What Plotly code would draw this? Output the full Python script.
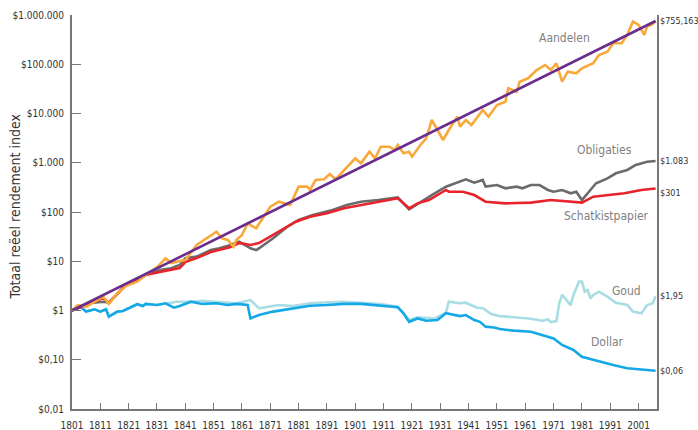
import plotly.graph_objects as go
import numpy as np

# Real total return index, $1 invested in 1801
stock_years = [1801, 1803, 1806, 1812, 1814, 1817, 1820, 1824, 1827, 1831, 1834, 1836, 1838, 1841,
               1845, 1848, 1852, 1854, 1856, 1858, 1859, 1861, 1863, 1866, 1868, 1871, 1874, 1878,
               1881, 1884, 1885, 1887, 1890, 1892, 1894, 1898, 1901, 1903, 1906, 1908, 1910, 1913,
               1915, 1916, 1918, 1920, 1921, 1924, 1926, 1928, 1932, 1934, 1937, 1938, 1940, 1942,
               1946, 1948, 1951, 1954, 1955, 1958, 1959, 1962, 1965, 1968, 1970, 1972, 1974, 1976,
               1979, 1981, 1985, 1987, 1990, 1992, 1995, 1997, 1999, 2001, 2003, 2004, 2006, 2007]
stocks = [1.0, 1.29, 1.19, 1.91, 1.36, 2.23, 3.14, 3.85, 5.26, 7.54, 11.5, 9.2, 9.8, 10.6,
          21.4, 27.9, 39.8, 29.2, 27.0, 19.7, 27.0, 34.1, 59.0, 46.7, 68.8, 128, 162, 139,
          327, 327, 280, 447, 461, 591, 461, 832, 1230, 975, 1676, 1230, 2118, 2118,
          1815, 2291, 1556, 1676, 1327, 2291, 3140, 7380, 2897, 4624, 8610, 5395, 7380, 5845,
          11780, 8610, 14890, 17380, 32500, 27700, 44250, 51860, 76400, 96600, 76400, 104500, 44250, 70600,
          65500, 82800, 104500, 154000, 180000, 266000, 266000, 393000, 731000, 627000, 393000, 579000, 657000, 755163]

bond_years = [1801, 1807, 1812, 1814, 1820, 1824, 1827, 1832, 1836, 1839, 1841, 1845, 1850, 1853,
              1857, 1860, 1864, 1866, 1867, 1872, 1877, 1881, 1886, 1893, 1898, 1903, 1909, 1916,
              1920, 1925, 1928, 1933, 1938, 1940, 1943, 1946, 1947, 1951, 1954, 1958, 1960, 1963,
              1966, 1969, 1971, 1974, 1977, 1979, 1981, 1983, 1986, 1990, 1993, 1997, 2000, 2004, 2007]
bonds = [1.0, 1.40, 1.51, 1.45, 3.30, 4.03, 5.26, 6.64, 7.19, 8.39, 11.5, 12.4, 16.9, 18.3,
         21.4, 24.9, 18.3, 16.9, 18.3, 29.2, 50.3, 68.8, 86.9, 110, 139, 162, 175, 199,
         113, 175, 221, 327, 412, 461, 394, 447, 327, 353, 303, 327, 303, 353,
         353, 280, 258, 280, 240, 258, 175, 240, 383, 483, 611, 713, 900, 1050, 1083]

bill_years = [1801, 1812, 1814, 1820, 1824, 1827, 1832, 1836, 1839, 1841, 1845, 1850, 1853, 1857,
              1860, 1864, 1867, 1871, 1876, 1880, 1885, 1891, 1897, 1903, 1909, 1916, 1920, 1923,
              1927, 1933, 1934, 1939, 1943, 1947, 1954, 1963, 1970, 1978, 1981, 1985, 1990, 1996,
              2002, 2007]
bills = [1.0, 1.79, 1.42, 3.30, 4.03, 5.26, 6.05, 6.64, 7.29, 9.66, 11.6, 15.4, 16.9, 19.5,
         23.5, 21.4, 23.4, 31.5, 46.7, 63.5, 80.3, 94, 119, 139, 162, 190, 119, 150,
         175, 280, 258, 258, 221, 162, 150, 155, 175, 162, 155, 205, 221, 240,
         280, 301]

gold_years = [1801, 1804, 1806, 1809, 1811, 1813, 1814, 1817, 1819, 1822, 1824, 1826, 1827, 1831,
              1834, 1838, 1843, 1847, 1851, 1859, 1864, 1867, 1874, 1879, 1885, 1896, 1903, 1910,
              1916, 1920, 1923, 1929, 1933, 1934, 1938, 1940, 1944, 1946, 1949, 1952, 1957, 1963,
              1967, 1969, 1970, 1972, 1973, 1974, 1976, 1977, 1978, 1980, 1981, 1982, 1983, 1984,
              1985, 1987, 1990, 1993, 1997, 1999, 2002, 2004, 2006, 2007]
gold = [1.0, 1.18, 0.95, 1.06, 0.95, 1.06, 0.75, 0.95, 0.98, 1.19, 1.34, 1.23, 1.36, 1.29,
        1.40, 1.51, 1.51, 1.58, 1.51, 1.40, 1.63, 1.11, 1.29, 1.23, 1.40, 1.51, 1.44, 1.36,
        1.19, 0.64, 0.73, 0.69, 0.90, 1.51, 1.40, 1.44, 1.14, 1.11, 0.85, 0.77, 0.73, 0.68,
        0.62, 0.66, 0.58, 0.61, 1.40, 2.07, 1.51, 1.29, 2.07, 3.85, 3.85, 2.41, 2.61, 1.77,
        2.07, 2.41, 1.91, 1.44, 1.29, 0.95, 0.88, 1.29, 1.40, 1.95]

dollar_years = [1801, 1804, 1806, 1809, 1811, 1813, 1814, 1817, 1819, 1822, 1824, 1826, 1827, 1831,
                1834, 1837, 1839, 1843, 1847, 1852, 1856, 1859, 1863, 1864, 1867, 1872, 1877, 1881,
                1885, 1891, 1897, 1903, 1909, 1916, 1918, 1920, 1923, 1926, 1930, 1933, 1938, 1940,
                1943, 1945, 1947, 1950, 1952, 1957, 1963, 1966, 1971, 1974, 1978, 1981, 1986, 1992,
                1997, 2003, 2007]
dollar = [1.0, 1.18, 0.95, 1.06, 0.95, 1.06, 0.75, 0.95, 0.98, 1.19, 1.34, 1.23, 1.36, 1.29,
          1.40, 1.14, 1.23, 1.51, 1.36, 1.40, 1.29, 1.36, 1.29, 0.69, 0.81, 0.95, 1.06, 1.16,
          1.25, 1.29, 1.36, 1.36, 1.25, 1.16, 0.88, 0.59, 0.69, 0.62, 0.64, 0.88, 0.77, 0.81,
          0.64, 0.59, 0.47, 0.45, 0.42, 0.39, 0.37, 0.33, 0.27, 0.20, 0.158, 0.115, 0.096, 0.078,
          0.067, 0.062, 0.06]

# Constant-growth trend of stocks between the first and last year
trend_years = [1801, 2007]
trend = [1.0, 755163]

y_tickvals = [0.01, 0.1, 1, 10, 100, 1000, 10000, 100000, 1000000]
y_ticktext = ["$0,01", "$0,10", "$1", "$10", "$100", "$1.000", "$10.000", "$100.000", "$1.000.000"]
x_tickvals = list(range(1801, 2002, 10))

end_labels = [("$755,163", 755163, 0), ("$1.083", 1083, 0), ("$301", 301, -5),
              ("$1,95", 1.95, 0), ("$0,06", 0.06, 0)]
series_labels = [("Aandelen", 1975, 5.533), ("Obligaties", 1989.1, 3.259),
                 ("Schatkistpapier", 1989.8, 1.919), ("Goud", 1996.6, 0.396),
                 ("Dollar", 1990.2, -0.640)]

FONT = "Liberation Sans Narrow, DejaVu Sans Condensed, Roboto Condensed, Roboto, sans-serif"

fig = go.Figure()
lw = 2.6
fig.add_trace(go.Scatter(x=gold_years, y=gold, mode="lines",
                         line=dict(color="#a8dde3", width=lw)))
fig.add_trace(go.Scatter(x=dollar_years, y=dollar, mode="lines",
                         line=dict(color="#14a9e6", width=lw)))
fig.add_trace(go.Scatter(x=bond_years, y=bonds, mode="lines",
                         line=dict(color="#6b6b6b", width=lw)))
fig.add_trace(go.Scatter(x=bill_years, y=bills, mode="lines",
                         line=dict(color="#e8232b", width=lw)))
fig.add_trace(go.Scatter(x=stock_years, y=stocks, mode="lines",
                         line=dict(color="#f8a93a", width=lw)))
fig.add_trace(go.Scatter(x=trend_years, y=trend, mode="lines",
                         line=dict(color="#6a2d8f", width=lw)))

for text, val, shift in end_labels:
    fig.add_annotation(x=1, xref="paper", y=np.log10(val), yref="y", text=text,
                       showarrow=False, xanchor="left", xshift=1, yshift=shift,
                       font=dict(family=FONT, size=9, color="#333333"))

for text, xv, yv in series_labels:
    fig.add_annotation(x=xv, y=yv, xref="x", yref="y", text=text, showarrow=False,
                       font=dict(family=FONT, size=12, color="#7f7f7f"))

fig.add_annotation(x=-0.114, y=0.515, xref="paper", yref="paper",
                   text="Totaal reëel rendement index", textangle=-90, showarrow=False,
                   font=dict(family=FONT, size=14, color="#333333"))

fig.update_layout(
    width=698, height=430,
    margin=dict(l=72, r=41, t=15, b=21, autoexpand=False),
    paper_bgcolor="white", plot_bgcolor="white",
    showlegend=False,
    font=dict(family=FONT, size=10, color="#333333"),
    xaxis=dict(range=[1801, 2007.5], tickvals=x_tickvals, ticks="inside", ticklen=6,
               tickcolor="#777777", tickwidth=1, showline=True, linecolor="#777777",
               linewidth=2, showgrid=False, zeroline=False, ticklabelstandoff=6,
               automargin=False,
               tickfont=dict(family=FONT, size=10, color="#333333")),
    yaxis=dict(type="log", range=[-2, 6], tickvals=y_tickvals, ticktext=y_ticktext,
               ticks="inside", ticklen=9, tickcolor="#777777", tickwidth=1,
               showline=True, linecolor="#777777", linewidth=2, mirror=True,
               showgrid=False, zeroline=False, ticklabelstandoff=4, automargin=False,
               tickfont=dict(family=FONT, size=10, color="#333333")),
)

fig.write_html("out.html")
